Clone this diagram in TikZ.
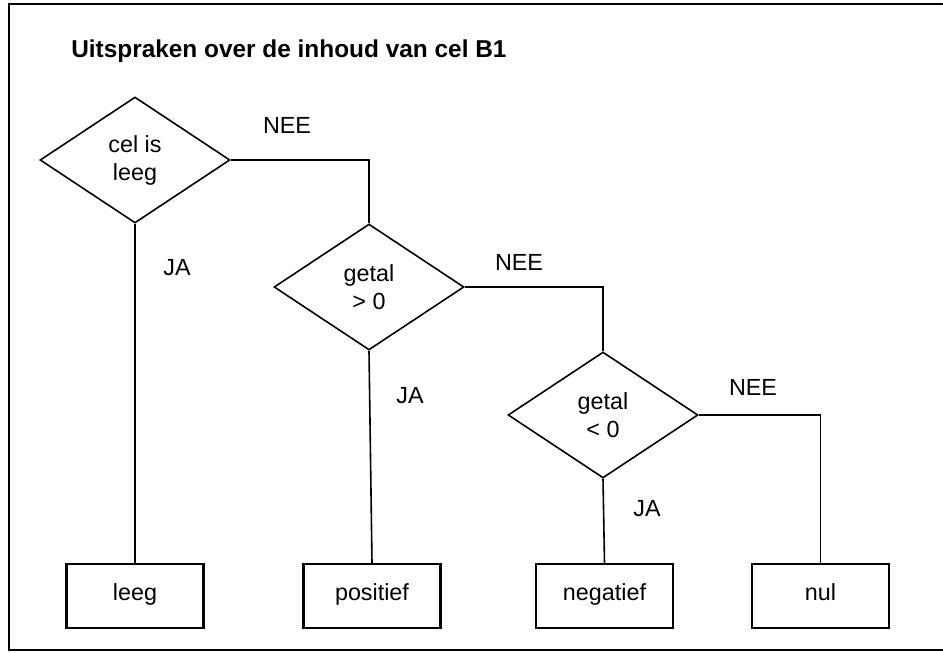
\documentclass[tikz,border=0pt]{standalone}
\usepackage{fontspec}
\setmainfont{Liberation Sans}
\usetikzlibrary{shapes.geometric}
\begin{document}
\begin{tikzpicture}[x=0.75pt,y=-0.75pt,
  every node/.style={font=\fontsize{17.5}{21}\selectfont},
  dec/.style={draw, diamond, line width=1.2pt, inner sep=0pt, minimum width=142.5pt, minimum height=94.5pt, align=center, font=\fontsize{17.5}{21}\selectfont},
  endbox/.style={draw, rectangle, line width=1.6pt, minimum width=102.75pt, minimum height=48pt, inner sep=0pt},
  conn/.style={line width=1.2pt},
  lbl/.style={inner sep=0pt}]
\useasboundingbox (0,0) rectangle (943,653);
\draw[line width=1.7pt] (943,4) -- (9,4) -- (9,650) -- (943,650);
\node[anchor=base west, inner sep=0pt, font=\fontsize{18.3}{22}\selectfont\bfseries] (title) at (71,57) {Uitspraken over de inhoud van cel B1};
\node[dec] (d1) at (135,160) {cel is\\leeg};
\node[dec] (d2) at (369,287) {getal\\> 0};
\node[dec] (d3) at (603,415) {getal\\< 0};
\node[endbox] (leeg) at (135,596) {\raisebox{6pt}{leeg}};
\node[endbox] (pos) at (372,596) {\raisebox{6pt}{positief}};
\node[endbox] (neg) at (604.5,596) {\raisebox{6pt}{negatief}};
\node[endbox] (nul) at (820.5,596) {\raisebox{6pt}{nul}};
\draw[conn] (d1.east) -| (d2.north);
\draw[conn] (d1.south) -- (leeg.north);
\draw[conn] (d2.east) -| (d3.north);
\draw[conn] (d2.south) -- (pos.north);
\draw[conn] (d3.east) -| (nul.north);
\draw[conn] (d3.south) -- (neg.north);
\node[lbl] (n1) at (287,125) {NEE};
\node[lbl] (j1) at (177,268) {JA};
\node[lbl] (n2) at (519,262) {NEE};
\node[lbl] (j2) at (410,396) {JA};
\node[lbl] (n3) at (753,387) {NEE};
\node[lbl] (j3) at (647,509) {JA};
\end{tikzpicture}
\end{document}
